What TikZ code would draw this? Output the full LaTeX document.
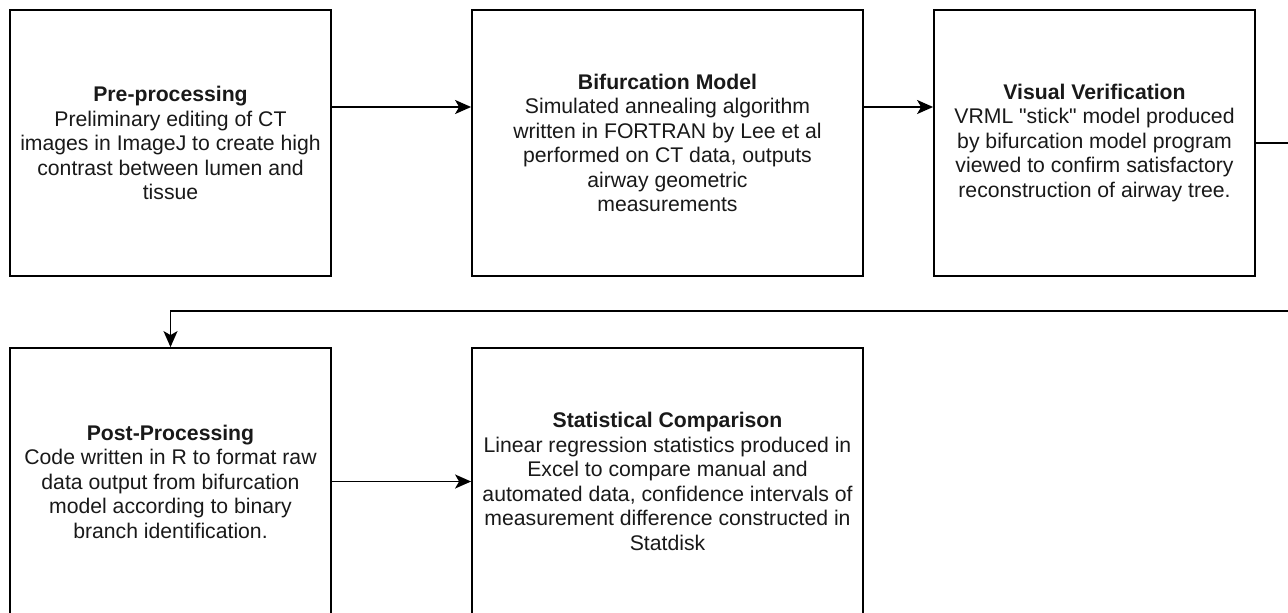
\documentclass[tikz,border=0pt]{standalone}
\usepackage{fontspec}
\setmainfont{Liberation Sans}
\newfontfamily\plainfont{Liberation Sans}
\usetikzlibrary{arrows.meta}
\begin{document}
\begin{tikzpicture}[x=1pt,y=-1pt,
  box/.style={draw=black,line width=1.8pt,rectangle,align=center,inner sep=0pt,
    font=\fontsize{21.2}{24.5}\selectfont,text=black!90},
  arr/.style={line width=1.8pt,-{Stealth[length=16pt,width=14pt,inset=4pt]}}]
\useasboundingbox (0,0) rectangle (1288,613);
\fill[white] (0,0) rectangle (1288,613);
\node[box,minimum width=321pt,minimum height=266pt] (b1) at (170.5,143)
  {\textbf{Pre-processing}\\Preliminary editing of CT\\images in ImageJ to create high\\contrast between lumen and\\tissue};
\node[box,minimum width=391pt,minimum height=266pt] (b2) at (667.5,143)
  {\textbf{Bifurcation Model}\\Simulated annealing algorithm\\written in FORTRAN by Lee et al\\performed on CT data, outputs\\airway geometric\\measurements};
\node[box,minimum width=321pt,minimum height=266pt] (b3) at (1094.5,143)
  {\textbf{Visual Verification}\\VRML {\plainfont"}stick{\plainfont"} model produced\\by bifurcation model program\\viewed to confirm satisfactory\\reconstruction of airway tree.};
\node[box,minimum width=321pt,minimum height=267pt] (b4) at (170.5,481.5)
  {\textbf{Post-Processing}\\Code written in R to format raw\\data output from bifurcation\\model according to binary\\branch identification.};
\node[box,minimum width=391pt,minimum height=267pt] (b5) at (667.5,481.5)
  {\textbf{Statistical Comparison}\\Linear regression statistics produced in\\Excel to compare manual and\\automated data, confidence intervals of\\measurement difference constructed in\\Statdisk};
\coordinate (turn) at (1292,311);
\draw[arr] ([yshift=36pt]b1.east) -- ([yshift=36pt]b2.west);
\draw[arr] ([yshift=36pt]b2.east) -- ([yshift=36pt]b3.west);
\draw[arr] (b3.east) -| (turn) -| (b4.north);
\draw[arr] (b4.east) -- (b5.west);
\end{tikzpicture}
\end{document}
